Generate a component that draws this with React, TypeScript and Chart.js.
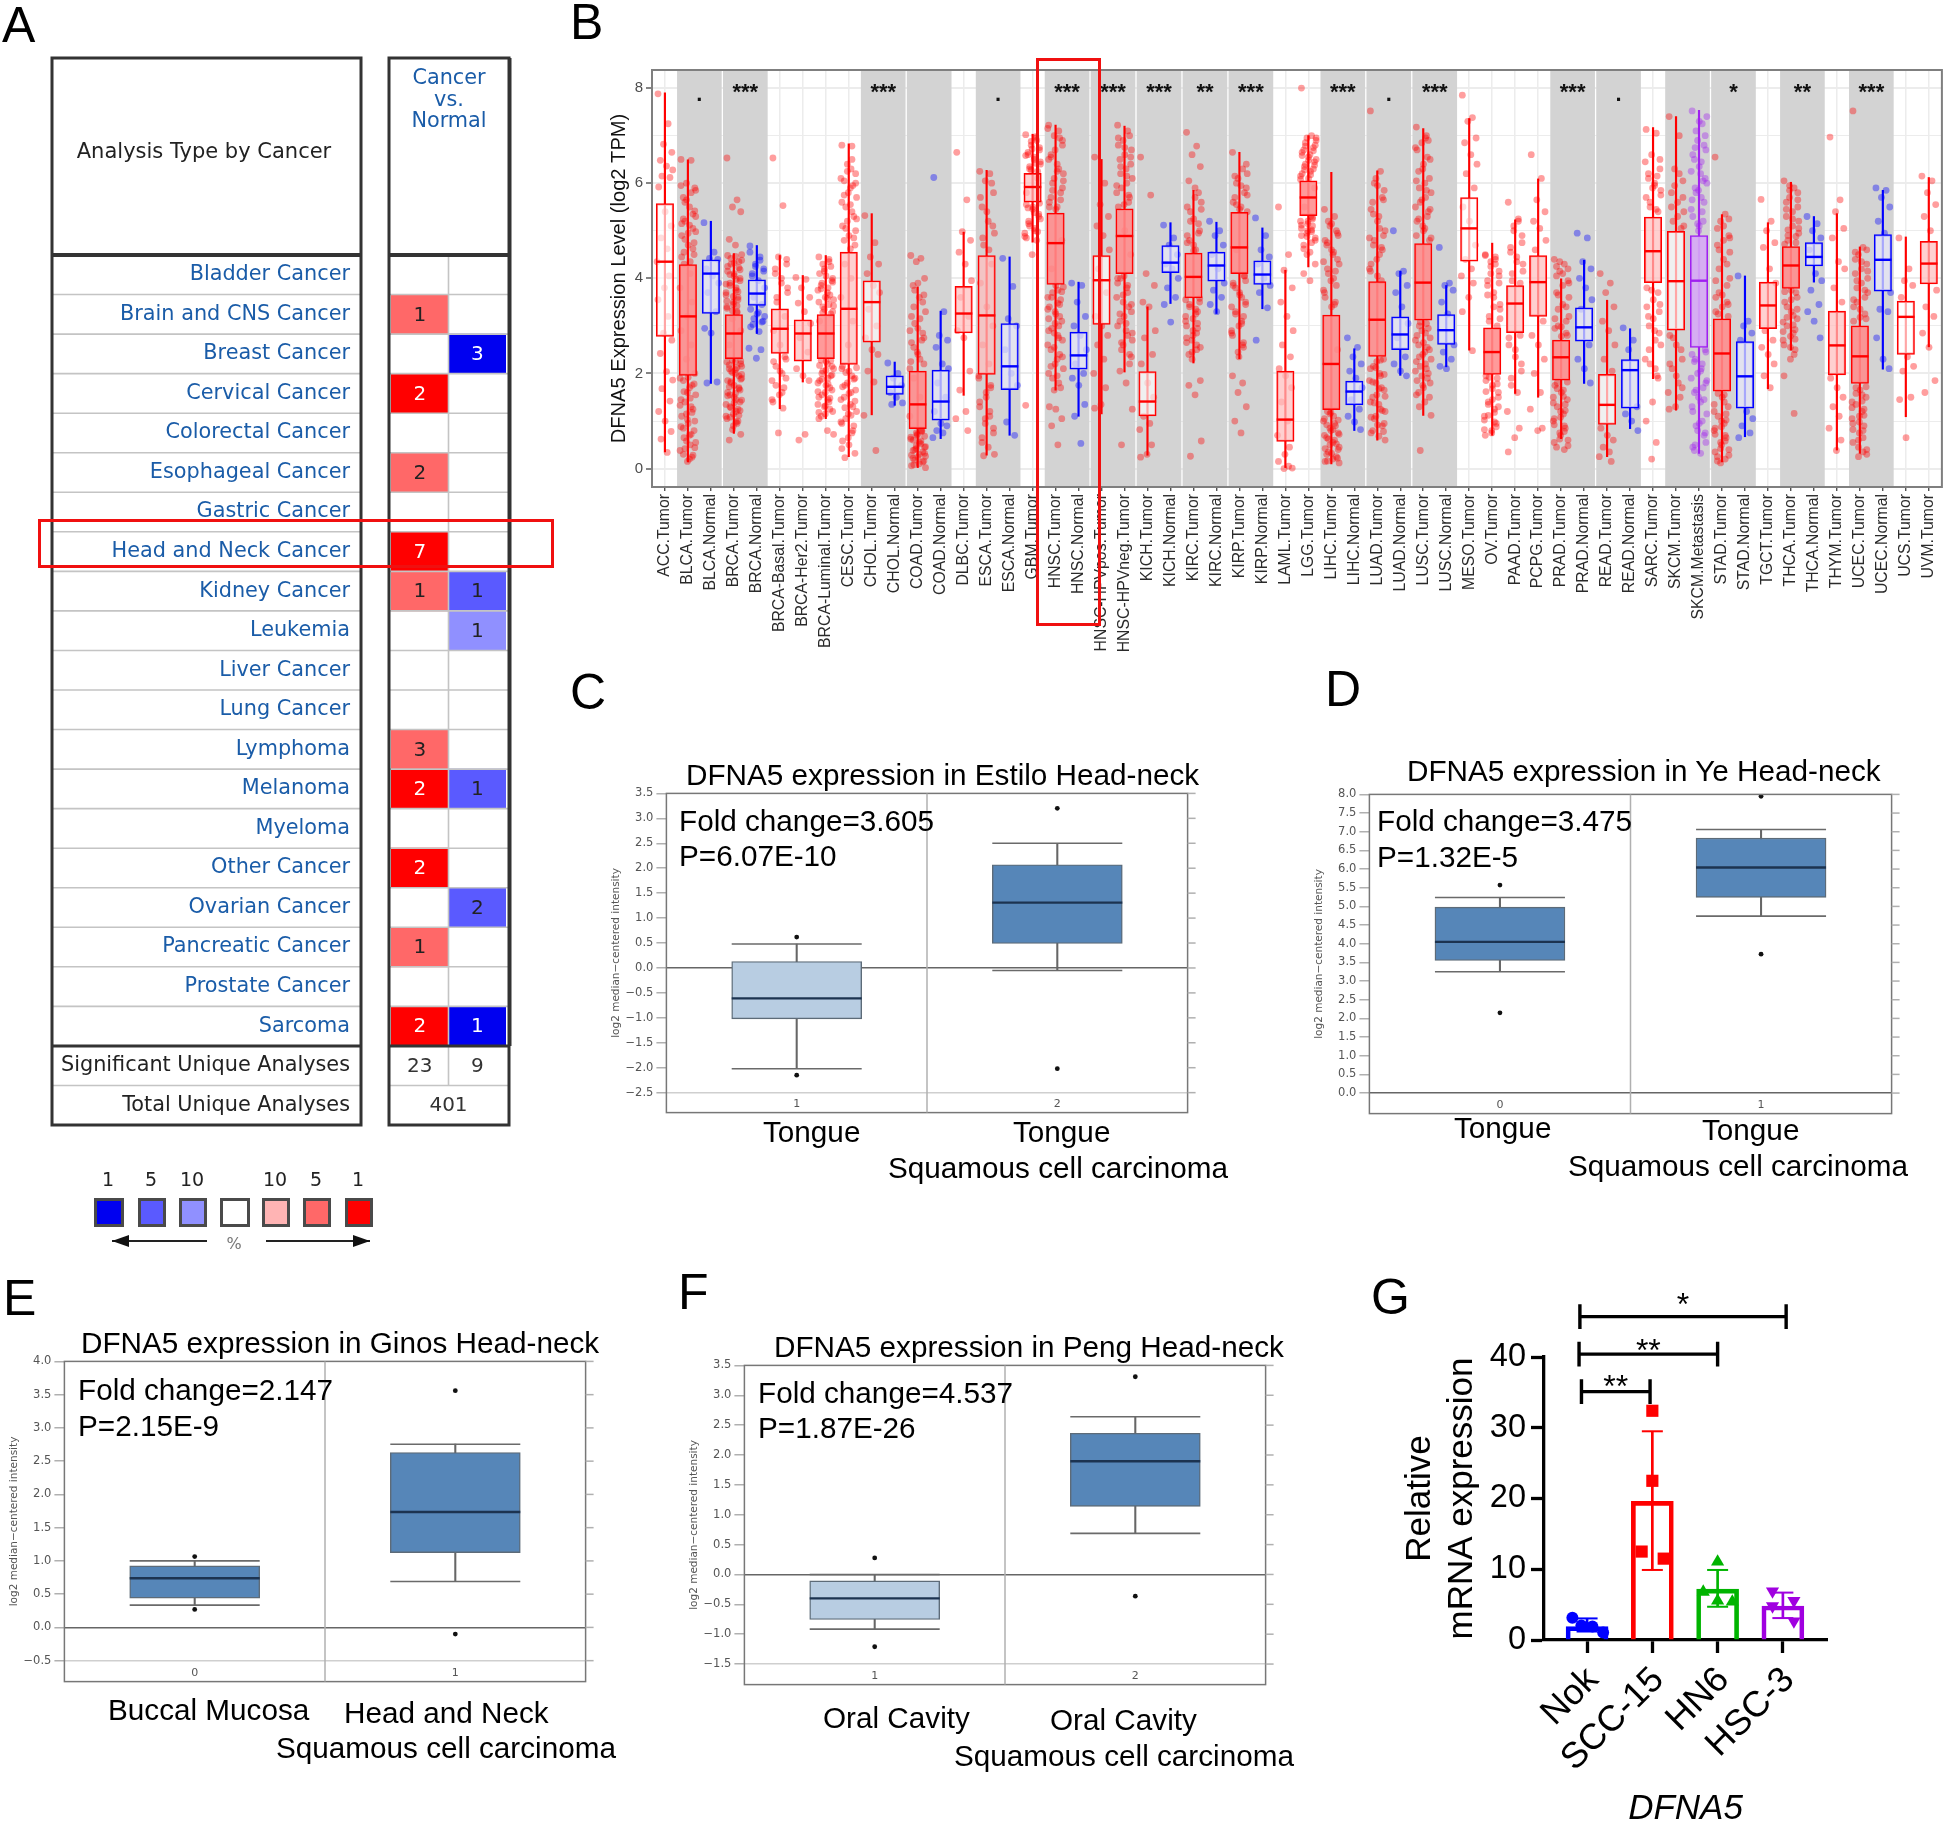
import React, { useEffect, useRef } from 'react';
import { Chart, registerables } from 'chart.js';
Chart.register(...registerables);

const SANS = '"Liberation Sans", Arial, sans-serif';
const DEJA = '"DejaVu Sans", sans-serif';

/* ---------- Panel A ---------- */
const cancerRows = ['Bladder Cancer','Brain and CNS Cancer','Breast Cancer','Cervical Cancer','Colorectal Cancer','Esophageal Cancer','Gastric Cancer','Head and Neck Cancer','Kidney Cancer','Leukemia','Liver Cancer','Lung Cancer','Lymphoma','Melanoma','Myeloma','Other Cancer','Ovarian Cancer','Pancreatic Cancer','Prostate Cancer','Sarcoma','Significant Unique Analyses','Total Unique Analyses'];
const upCounts = [0,1,0,2,0,2,0,7,1,0,0,0,3,2,0,2,0,1,0,2];
const upShade = [0,5,0,1,0,5,0,1,5,0,0,0,5,1,0,1,0,5,0,1];
const downCounts = [0,0,3,0,0,0,0,0,1,1,0,0,0,1,0,0,2,0,0,1];
const downShade = [0,0,1,0,0,0,0,0,5,10,0,0,0,5,0,0,5,0,0,1];
const significantCounts = [23, 9];
const totalAnalyses = 401;
const upColors: any = { 1: '#ff0000', 5: '#ff6868', 10: '#ffb4b4' };
const downColors: any = { 1: '#0000f0', 5: '#5a5aff', 10: '#9090ff' };
const legendNumbers = ['1','5','10','','10','5','1'];
const legendFills = ['#0000f0','#5a5aff','#9090ff','#ffffff','#ffb4b4','#ff6868','#ff0000'];
const legendLefts = [94,138,179,220,262,303,345];
const legendWidths = [30,28,28,30,28,28,28];

/* ---------- Panel B ---------- */
const tcgaLabels = ['ACC.Tumor','BLCA.Tumor','BLCA.Normal','BRCA.Tumor','BRCA.Normal','BRCA-Basal.Tumor','BRCA-Her2.Tumor','BRCA-Luminal.Tumor','CESC.Tumor','CHOL.Tumor','CHOL.Normal','COAD.Tumor','COAD.Normal','DLBC.Tumor','ESCA.Tumor','ESCA.Normal','GBM.Tumor','HNSC.Tumor','HNSC.Normal','HNSC-HPVpos.Tumor','HNSC-HPVneg.Tumor','KICH.Tumor','KICH.Normal','KIRC.Tumor','KIRC.Normal','KIRP.Tumor','KIRP.Normal','LAML.Tumor','LGG.Tumor','LIHC.Tumor','LIHC.Normal','LUAD.Tumor','LUAD.Normal','LUSC.Tumor','LUSC.Normal','MESO.Tumor','OV.Tumor','PAAD.Tumor','PCPG.Tumor','PRAD.Tumor','PRAD.Normal','READ.Tumor','READ.Normal','SARC.Tumor','SKCM.Tumor','SKCM.Metastasis','STAD.Tumor','STAD.Normal','TGCT.Tumor','THCA.Tumor','THCA.Normal','THYM.Tumor','UCEC.Tumor','UCEC.Normal','UCS.Tumor','UVM.Tumor'];
const tcgaQ3 = [5.57,4.29,4.39,3.24,3.97,3.36,3.13,3.24,4.55,3.95,1.95,2.05,2.07,3.83,4.48,3.05,6.21,5.37,2.87,4.48,5.46,2.04,4.69,4.53,4.55,5.39,4.37,2.05,6.05,3.23,1.84,3.93,3.19,4.73,3.24,5.7,2.96,3.85,4.48,2.7,3.38,1.98,2.29,5.29,4.99,4.9,3.15,2.67,3.92,4.67,4.75,3.31,3.0,4.92,3.52,4.78];
const tcgaMedian = [4.35,3.2,4.1,2.84,3.68,2.94,2.84,2.84,3.36,3.5,1.72,1.35,1.41,3.26,3.22,2.15,5.92,4.74,2.38,3.96,4.89,1.41,4.33,4.03,4.27,4.65,4.08,1.03,5.7,2.2,1.62,3.13,2.82,3.91,2.91,5.05,2.45,3.47,3.92,2.34,2.97,1.34,2.07,4.57,3.94,3.95,2.42,1.94,3.43,4.27,4.45,2.59,2.36,4.39,3.19,4.31];
const tcgaQ1 = [2.78,1.96,3.26,2.31,3.43,2.42,2.26,2.31,2.19,2.66,1.56,0.84,1.02,2.85,1.98,1.66,5.6,3.87,2.09,3.03,4.1,1.11,4.12,3.59,3.94,4.1,3.87,0.57,5.32,1.24,1.34,2.36,2.5,3.12,2.61,4.36,1.98,2.86,3.2,1.86,2.68,0.93,1.27,3.91,2.91,2.55,1.63,1.27,2.94,3.79,4.26,1.97,1.79,3.73,2.4,3.88];
const tcgaHigh = [7.9,6.49,5.2,4.52,4.69,4.48,4.06,4.48,6.83,5.36,2.24,3.82,3.31,4.97,6.27,4.45,7.03,7.22,3.92,6.5,7.2,3.4,5.17,5.85,5.18,6.65,5.06,4.17,7.0,6.23,2.52,6.26,4.15,7.15,3.85,7.36,4.74,5.23,6.09,3.99,4.38,3.54,2.94,7.17,7.4,7.53,5.34,4.05,5.17,6.02,5.3,5.36,4.66,5.85,4.87,6.12];
const tcgaLow = [0.35,0.14,1.79,0.74,2.84,1.26,1.82,1.05,0.25,1.13,1.33,0,0.63,1.54,0.28,0.7,4.76,1.65,1.1,1.15,2.03,0.28,3.47,2.22,3.26,2.31,3.36,0,4.24,0.1,0.8,0.6,1.96,1.12,2.14,2.49,0.7,1.58,1.5,0.63,1.79,0.25,0.84,1.89,1.23,0.32,0.14,0.67,1.68,2.49,3.92,0.39,0.32,2.09,1.09,2.56];
const tcgaSpread = [
[7.88,7.25,6.82,6.65,6.48,6.36,6.28,6.15,6.12,5.92,5.4,5.1,4.85,4.62,4.35,4.05,3.8,3.55,3.2,2.85,2.7,2.42,2.04,1.86,1.68,1.42,1.2,1.0,0.78,0.62,0.34],
[6.5,6.48,6.0,5.9,5.7,5.5,5.3,5.2,5.05,4.9,4.7,4.5,4.3,4.1,3.8,3.5,3.2,2.9,2.6,2.3,2.0,1.85,1.7,1.55,1.4,1.25,1.1,0.95,0.8,0.65,0.5,0.38,0.24,0.15,5.95,5.8,5.65,5.42,5.25,5.12,4.98,4.82,4.62,4.45,1.92,1.78,1.62,1.48,1.33,1.18,1.03,0.88,0.72,0.58,0.44,0.3,0.2,5.85,5.6,5.35,5.15,4.95,4.75,4.55,4.35,1.9,1.75,1.6,1.45,1.3,1.15,1.0,0.85,0.7,0.55,0.42,0.28],
[5.17,4.55,4.42,4.4,4.2,4.05,3.9,3.7,3.3,2.95,2.85,1.82,1.8],
[6.53,5.65,5.5,5.4,4.82,4.7,4.5,4.42,4.35,4.25,4.1,4.0,3.9,3.8,3.7,3.6,3.5,3.4,3.3,3.15,2.9,2.6,2.25,2.15,2.05,1.95,1.85,1.75,1.65,1.55,1.45,1.35,1.25,1.15,1.05,0.95,0.82,0.72,0.6,4.46,4.38,4.3,4.22,4.15,4.05,3.95,3.85,3.75,3.65,3.55,3.45,3.37,3.28,2.28,2.2,2.1,2.0,1.9,1.8,1.7,1.6,1.5,1.4,1.3,1.2,1.1,1.0,0.9,2.24,2.12,2.02,1.88,1.72,1.58,1.44,1.28,1.12,4.48,4.32,4.18,4.08,3.98,3.88,3.72,3.62,3.52,3.42,3.32,2.26,2.18,2.08,1.98,1.83,1.68,1.53,1.38,1.22,1.08,0.98],
[4.68,4.45,4.3,4.2,4.1,3.95,3.8,3.6,3.45,3.35,3.25,3.1,3.03,2.88,2.53,2.5,2.32,4.55,4.38,4.25,4.15,4.05,3.28,3.2,3.15,3.08,2.98],
[6.53,5.53,4.45,4.3,4.1,3.9,3.7,3.5,3.2,2.9,2.6,2.3,2.15,2.0,1.85,1.7,1.55,1.4,1.27,0.75,4.4,4.2,4.0,3.8,3.6,2.35,2.25,2.05,1.9,1.75,1.6,1.45],
[4.02,3.98,3.8,3.6,3.48,3.3,3.05,2.75,2.45,2.1,1.95,1.85,0.6,0.72],
[4.45,4.4,4.2,4.0,3.85,3.7,3.55,3.4,3.25,3.1,2.25,2.15,2.0,1.9,1.8,1.7,1.6,1.5,1.4,1.3,1.2,1.1,0.8,0.72,4.3,4.25,4.1,4.05,3.95,3.9,3.8,3.75,3.65,3.6,3.5,3.45,3.35,3.3,2.28,2.2,2.1,2.05,1.95,1.85,1.75,1.65,1.55,1.45,1.35,1.25,1.15,1.05,4.35,4.15,3.92,3.78,3.58,3.42,3.28,2.27,2.17,2.07,1.97,1.88,1.78,1.62,1.48,1.32,1.18],
[6.8,6.78,6.4,6.2,6.05,5.9,5.7,5.5,5.3,5.1,4.9,4.7,4.3,4.0,3.6,3.1,2.6,2.1,1.95,1.8,1.65,1.5,1.35,1.2,1.05,0.9,0.58,0.5,0.32,0.23,6.3,6.1,5.95,5.8,5.6,5.4,5.2,5.0,4.8,4.62,2.12,2.02,1.88,1.72,1.58,1.42,1.28,1.12,0.98,0.8,0.65,0.42,6.5,6.25,6.0,5.75,5.55,5.25,5.05,4.85,2.15,2.05,1.9,1.75,1.6,1.45,1.3,1.15,0.95,0.75],
[5.32,4.75,4.45,4.3,4.1,3.85,3.7,3.35,3.0,2.75,2.5,2.4,2.05,1.82,1.12,0.38],
[2.22,2.0,1.9,1.75,1.6,1.5,1.38,1.35],
[4.48,4.42,4.35,4.0,3.85,3.6,3.3,3.05,2.85,2.65,2.4,2.2,1.9,1.5,1.1,0.8,0.72,0.62,0.52,0.42,0.32,0.22,0.1,0.02,3.75,3.5,3.2,2.95,2.75,2.55,2.3,2.1,0.78,0.7,0.66,0.58,0.48,0.45,0.38,0.3,0.26,0.18,0.14,0.06,3.9,3.65,3.4,3.15,2.9,2.7,2.45,2.25,0.8,0.75,0.68,0.6,0.55,0.46,0.4,0.35,0.28,0.24,0.16,0.08],
[6.12,3.3,2.8,2.7,2.55,2.2,2.1,1.8,1.5,1.2,0.95,0.9,0.8,0.75,0.65],
[6.65,5.65,4.98,4.8,4.55,4.3,3.95,3.6,3.2,2.9,2.75,2.05,1.65,1.2,1.05,0.8],
[6.25,6.2,6.05,5.8,5.5,5.2,4.95,4.7,4.3,3.9,3.4,3.0,2.6,2.2,1.9,1.75,1.6,1.4,1.2,1.05,0.85,0.65,0.45,0.3,0.27,6.0,5.7,5.4,5.1,4.85,4.6,1.95,1.7,1.5,1.3,1.1,0.95,0.75,0.55],
[4.42,3.83,3.15,3.0,2.5,2.0,1.75,0.98,0.7],
[7.02,6.95,6.8,6.7,6.6,6.5,6.4,6.3,6.1,5.8,5.5,5.35,5.2,5.05,4.95,4.8,4.5,1.33,6.98,6.88,6.75,6.65,6.55,6.45,6.35,6.25,5.55,5.45,5.3,5.15,5.0,4.88,6.9,6.72,6.58,6.42,6.28,5.58,5.48,5.38,5.25,5.1,4.98,4.85],
[7.22,7.1,7.0,6.8,6.6,6.4,6.2,6.0,5.8,5.6,5.45,4.8,4.2,3.75,3.6,3.45,3.3,3.15,3.0,2.85,2.7,2.5,2.3,2.1,1.9,1.7,1.3,1.25,1.05,0.9,0.5,7.15,6.95,6.7,6.5,6.3,6.1,5.9,5.7,5.5,3.82,3.7,3.55,3.4,3.25,3.1,2.95,2.8,2.6,2.4,2.2,2.0,1.8,1.65,6.9,6.55,6.25,6.05,5.85,5.65,5.5,3.85,3.72,3.6,3.48,3.35,3.2,3.05,2.9,2.75,2.55,2.35,2.15,1.95],
[3.9,3.85,3.5,3.2,3.0,2.8,2.5,2.2,2.0,1.9,1.75,1.35,1.1,0.53],
[6.55,6.0,5.55,5.3,5.1,4.9,4.6,4.2,3.7,3.2,3.0,2.8,2.6,2.3,2.0,1.7,1.35,1.27],
[7.22,7.1,6.9,6.7,6.5,6.3,6.1,5.9,5.7,5.5,5.0,4.5,4.0,3.8,3.6,3.4,3.2,3.0,2.8,2.6,2.35,2.05,1.8,1.25,0.5,7.0,6.8,6.6,6.4,6.2,6.0,5.8,5.6,4.05,3.9,3.7,3.5,3.3,3.1,2.9,2.7,2.5,2.2,6.95,6.75,6.55,6.35,6.15,5.95,5.75,5.55,4.0,3.85,3.65,3.45,3.25,3.05,2.85,2.65,2.4],
[6.55,5.75,4.1,3.85,3.5,3.4,2.9,2.75,2.4,2.2,1.8,1.5,1.1,0.95,0.82,0.5,0.3,0.24],
[5.12,4.85,4.7,4.5,4.3,4.2,4.0,3.8,3.6,3.45,3.08],
[7.07,6.78,6.6,6.35,6.05,5.9,5.6,5.4,5.15,4.9,4.7,3.5,3.4,3.25,3.1,2.95,2.8,2.65,2.5,2.3,1.85,1.75,1.55,0.58,0.26,5.8,5.5,5.25,5.0,4.8,4.6,3.55,3.3,3.15,3.0,2.85,2.7,2.55,2.4,5.7,5.45,5.2,4.95,4.75,4.58,3.58,3.45,3.35,3.2,3.05,2.9,2.75,2.6,2.45],
[5.2,5.0,4.9,4.7,4.5,4.2,3.9,3.75,3.6,3.45,3.3],
[6.65,6.3,6.1,5.9,5.7,5.5,5.4,4.6,4.05,3.9,3.7,3.5,3.3,3.1,2.9,2.55,2.35,1.95,1.8,1.6,1.3,1.0,0.75,6.2,6.0,5.8,5.6,5.45,3.95,3.8,3.6,3.4,3.2,3.0,2.8,2.6,2.45,6.4,6.15,5.95,5.75,5.55,4.05,3.85,3.65,3.45,3.25,3.05,2.85,2.65],
[5.27,4.9,4.6,4.45,4.3,4.0,3.85,3.7,3.38,2.7],
[5.5,4.5,4.17,3.8,3.5,3.2,2.9,2.6,2.35,2.1,1.95,1.7,1.4,1.0,0.7,0.45,0.3,0.15,0.05,0,0.01],
[8.0,7.0,6.95,6.8,6.7,6.6,6.5,6.4,6.3,6.2,6.1,5.9,5.5,5.3,5.2,5.1,5.0,4.9,4.75,4.5,4.3,4.1,3.95,6.95,6.85,6.75,6.65,6.55,6.45,6.35,6.25,6.15,5.28,5.2,5.12,5.02,4.95,4.85,4.7,4.55,6.9,6.78,6.68,6.58,6.48,6.38,6.28,6.18,6.08,5.25,5.15,5.05,4.98,4.88,4.8,4.62],
[5.45,5.3,5.1,4.9,4.7,4.5,4.3,4.1,3.85,3.6,3.4,2.5,1.2,1.1,1.0,0.9,0.8,0.7,0.6,0.5,0.4,0.3,0.2,0.12,5.2,5.0,4.8,4.6,4.4,4.2,4.0,3.75,3.5,1.18,1.05,0.95,0.85,0.75,0.65,0.55,0.45,0.35,0.25,0.15,5.15,4.95,4.75,4.55,4.35,4.15,3.95,3.7,3.45,1.15,1.02,0.92,0.82,0.72,0.62,0.52,0.42,0.32,0.22,0.16],
[2.75,2.55,2.35,2.2,2.05,1.9,1.7,1.45,1.25,1.1,0.98,0.82],
[7.52,6.25,6.1,5.85,5.6,5.3,5.0,4.8,4.6,4.3,4.05,2.3,2.15,2.0,1.85,1.7,1.55,1.4,1.25,1.1,0.95,0.8,0.68,0.6,6.0,5.7,5.45,5.2,4.9,4.7,4.5,4.2,3.95,2.25,2.1,1.95,1.8,1.65,1.5,1.35,1.2,1.05,0.9,0.75,5.95,5.65,5.35,5.05,4.85,4.65,4.4,4.15,2.28,2.12,1.98,1.82,1.68,1.52,1.38,1.22,1.08,0.92,0.78],
[5.0,4.15,4.1,3.85,3.7,3.4,3.05,2.75,2.35,2.2,2.05,1.95],
[7.18,7.0,6.85,6.5,6.25,6.0,5.8,5.6,5.4,5.2,5.0,4.8,3.0,2.85,2.7,2.55,2.4,2.25,2.1,1.95,1.8,1.6,1.4,1.12,0.38,6.9,6.7,6.4,6.1,5.9,5.7,5.5,5.3,5.1,4.9,3.05,2.9,2.75,2.6,2.45,2.3,2.15,2.0,1.85,1.7,1.5,1.3,6.95,6.75,6.55,6.3,6.05,5.85,5.65,5.45,5.25,5.05,4.85,3.08,2.95,2.8,2.65,2.5,2.35,2.2,2.05,1.9,1.75,1.55],
[4.65,3.9,3.85,3.75,3.5,3.25,2.6,2.45,2.3,2.15,2.1],
[7.85,7.38,7.3,6.95,6.85,6.6,6.4,6.2,5.9,5.5,5.2,4.7,4.4,4.2,4.05,3.9,3.6,3.3,2.48],
[4.5,4.4,4.35,4.15,3.95,3.7,3.45,3.2,3.0,1.95,1.75,1.6,1.4,1.25,1.1,0.95,0.8,0.7,4.45,4.25,4.05,3.85,3.6,3.35,3.1,1.9,1.85,1.68,1.5,1.35,1.18,1.02,0.88,0.75,4.48,4.3,4.1,3.9,3.65,3.4,3.15,1.92,1.78,1.62,1.45,1.3,1.12,0.98,0.82],
[5.6,5.25,5.1,4.9,4.65,4.45,4.3,4.1,3.9,2.75,2.5,2.2,1.9,1.6,1.2,0.85,0.65,0.35,5.2,5.0,4.75,4.55,4.35,4.15,3.95,2.8,2.6,2.35,2.05,1.75],
[6.6,6.1,5.65,5.4,5.2,5.05,4.8,4.6,3.1,2.8,2.6,2.3,2.0,1.6,1.25,0.85,0.8],
[4.4,4.3,4.15,3.95,3.7,3.45,3.2,3.0,2.85,1.75,1.6,1.45,1.3,1.15,1.0,0.85,0.7,0.55,0.4,4.35,4.2,4.05,3.85,3.6,3.35,3.1,2.95,2.78,1.82,1.68,1.52,1.38,1.22,1.08,0.92,0.78,0.62,0.48,4.25,4.1,3.9,3.65,3.4,3.15,2.98,2.8,1.8,1.65,1.5,1.35,1.2,1.05,0.9,0.75,0.6,0.45],
[4.95,4.85,4.35,4.2,4.0,3.8,3.55,3.35,2.6,2.3,2.1,1.8],
[4.1,3.9,3.7,3.4,3.1,2.9,2.6,2.3,2.05,0.85,0.7,0.6,0.45,0.35,0.25,0.15],
[2.96,2.7,2.5,1.3,1.15,1.0,0.8],
[7.13,7.05,6.6,6.3,6.1,6.0,5.85,5.6,5.4,3.8,3.55,3.3,3.0,2.7,2.3,1.95,1.4,1.0,0.55,0.2,6.5,6.2,5.95,5.75,5.5,3.7,3.4,3.15,2.85,2.5,2.1,6.45,6.15,5.9,5.7,5.45,3.75,3.45,3.2,2.9,2.6,2.2,1.9],
[7.4,7.0,6.3,6.05,5.8,5.6,5.4,5.2,5.05,2.8,2.6,2.3,2.1,1.8,1.6,1.5,1.3,1.25,6.2,5.95,5.7,5.5,5.3,5.1,2.75,2.5,2.2,1.95,1.7],
[7.52,7.25,6.9,6.7,6.5,6.2,6.0,5.8,5.6,5.3,5.1,2.5,2.3,2.1,1.9,1.7,1.5,1.3,1.0,0.8,0.55,0.38,0.32,7.4,7.1,6.8,6.6,6.35,6.1,5.9,5.7,5.45,5.2,5.0,2.4,2.2,2.0,1.8,1.6,1.4,1.15,0.9,0.7,0.45,7.3,7.0,6.75,6.45,6.25,6.05,5.85,5.65,5.4,5.15,2.45,2.25,2.05,1.85,1.65,1.45,1.2,0.95,0.75,0.5],
[6.55,5.35,5.2,4.9,4.7,4.4,4.0,3.7,3.5,3.3,1.5,1.3,1.1,0.95,0.8,0.65,0.5,0.35,0.2,0.12,5.25,5.05,4.8,4.55,4.2,3.85,3.6,3.4,3.2,1.58,1.4,1.2,1.02,0.88,0.72,0.58,0.42,0.28,0.16,5.1,4.85,4.6,4.3,3.95,3.65,3.45,3.25,1.55,1.35,1.15,1.0,0.85,0.7,0.55,0.4,0.25],
[4.05,3.1,3.0,2.85,2.7,1.2,1.05,0.9,0.75,0.65],
[5.66,5.2,5.0,4.75,4.65,4.2,3.9,2.9,2.7,2.55,2.4,2.2,1.95,1.7],
[6.05,5.9,5.7,5.5,5.3,5.1,4.95,4.8,3.7,3.5,3.3,3.15,3.0,2.85,2.7,2.5,2.3,1.95,1.16,5.95,5.8,5.6,5.4,5.2,5.02,4.88,4.72,3.75,3.6,3.4,3.22,3.08,2.92,2.78,2.6,2.4,5.85,5.65,5.45,5.25,5.05,4.9,4.75,3.72,3.55,3.35,3.18,3.02,2.88,2.72,2.55],
[5.3,5.15,5.0,4.85,4.6,4.1,3.95,3.75,3.45,3.3,3.1,2.75],
[6.97,5.65,5.4,5.05,4.85,4.35,4.2,3.8,3.5,1.9,1.7,1.5,1.3,1.1,0.85,0.6,0.38],
[7.52,4.65,4.5,4.3,4.1,3.9,3.7,3.5,3.25,3.1,1.65,1.5,1.35,1.2,1.05,0.9,0.75,0.55,0.35,0.25,4.6,4.4,4.2,4.0,3.8,3.6,3.4,3.18,1.72,1.58,1.42,1.28,1.12,0.98,0.82,0.65,0.45,0.3,4.55,4.35,4.15,3.95,3.75,3.55,3.35,3.15,1.7,1.55,1.4,1.25,1.1,0.95,0.8,0.6,0.4],
[5.9,5.85,5.7,5.5,5.2,4.95,3.7,3.35,3.3,2.75,2.3,2.1],
[4.85,4.2,3.95,3.85,3.6,2.35,2.15,2.05,1.5,1.45,0.65],
[6.15,6.05,5.8,5.55,5.3,5.0,3.75,3.4,3.2,2.85,2.55,1.85,1.6],
];
const jitterPattern = [-0.3,0.14,-0.06,0.3,-0.2,0.07,0.34,-0.13,0.22,-0.27,0.01,0.27,-0.17,0.1,-0.34,0.18,-0.02];
const bandStarts = [2,4,10,12,15,18,20,22,24,26,30,32,34,40,42,45,47,50,53];
const bandMarks = ['.','***','***','','.','***','***','***','**','***','***','.','***','***','.','','*','**','***'];
const denseBoxes = ['BRCA.Tumor','BRCA-Luminal.Tumor','COAD.Tumor','HNSC.Tumor','KIRC.Tumor','LIHC.Tumor','LUAD.Tumor','LUSC.Tumor','OV.Tumor','PRAD.Tumor','STAD.Tumor','THCA.Tumor','UCEC.Tumor','BLCA.Tumor','KIRP.Tumor','LGG.Tumor','HNSC-HPVneg.Tumor'];
const mediumBoxes = ['CESC.Tumor','ESCA.Tumor','GBM.Tumor','SARC.Tumor','PAAD.Tumor','PCPG.Tumor','BRCA-Basal.Tumor','BRCA-Her2.Tumor','DLBC.Tumor','TGCT.Tumor','THYM.Tumor','LAML.Tumor','UVM.Tumor'];
const tcgaTicks = [0,1,2,3,4,5,6,7,8];

/* ---------- Panels C-F ---------- */
const estiloQ3 = [0.13,2.07]; const estiloMedian = [-0.61,1.31]; const estiloQ1 = [-1.02,0.49]; const estiloHigh = [0.48,2.5]; const estiloLow = [-2.02,-0.05];
const estiloOutliers = [[0.62,-2.15],[3.2,-2.02]];
const estiloTicks = [3.5,3,2.5,2,1.5,1,0.5,0,-0.5,-1,-1.5,-2,-2.5];
const yeQ3 = [4.98,6.83]; const yeMedian = [4.05,6.04]; const yeQ1 = [3.55,5.24]; const yeHigh = [5.24,7.06]; const yeLow = [3.25,4.74];
const yeOutliers = [[5.57,2.15],[7.95,3.72]];
const yeTicks = [8,7.5,7,6.5,6,5.5,5,4.5,4,3.5,3,2.5,2,1.5,1,0.5,0];
const ginosQ3 = [0.925,2.63]; const ginosMedian = [0.74,1.735]; const ginosQ1 = [0.44,1.125]; const ginosHigh = [1.0,2.755]; const ginosLow = [0.335,0.69];
const ginosOutliers = [[1.065,0.27],[3.56,-0.1]];
const ginosTicks = [4,3.5,3,2.5,2,1.5,1,0.5,0,-0.5];
const pengQ3 = [-0.108,2.364]; const pengMedian = [-0.4,1.896]; const pengQ1 = [-0.754,1.14]; const pengHigh = [0,2.64]; const pengLow = [-0.915,0.688];
const pengOutliers = [[0.276,-1.21],[3.31,-0.364]];
const pengTicks = [3.5,3,2.5,2,1.5,1,0.5,0,-0.5,-1,-1.5];
const LIGHT = '#b8cde2'; const DARK = '#5686b8';

/* ---------- Panel G ---------- */
const cellLines = ['Nok','SCC-15','HN6','HSC-3'];
const cellMeans = [1.9,19.6,7.2,4.8];
const cellErrHigh = [3.05,29.5,9.9,6.7];
const cellErrLow = [1.2,9.9,4.7,3.1];
const cellColors = ['#0000ff','#ff0000','#00b400','#a000e0'];
const cellReplicates = [[3.15,2.05,1.9,1.05],[32.4,22.5,12.5,11.5],[11.05,6.8,5.55,5.4],[6.9,4.8,5.55,2.65]];
const cellOffsets = [[-0.225,-0.087,0.082,0.246],[0,0,-0.164,0.174],[0,-0.22,0,0.225],[-0.159,-0.159,0.169,0.169]];
const cellTicks = [0,10,20,30,40];
const bracketFrom = [-0.11,-0.123,-0.086];
const bracketTo = [3.05,2.0,0.965];
const bracketLevel = [45.7,40.4,35.1];
const bracketStars = ['*','**','**'];
const bracketStarBase = [46,39.5,34.4];

/* ---------- helpers ---------- */
function stack(list: any[]) { return list.map((d, i) => ({ ...d, order: list.length - i })); }

function ChartBox({ plot, m, make }: any) {
  const ref = useRef<HTMLCanvasElement>(null);
  const W = plot.r - plot.l + m.l + m.r;
  const H = plot.b - plot.t + m.t + m.b;
  useEffect(() => {
    const cfg = make();
    const xScale = cfg.options.scales.x;
    const hiddenX = xScale.display === false;
    cfg.options.responsive = false;
    cfg.options.animation = false;
    cfg.options.events = [];
    cfg.options.layout = { padding: { top: m.t, right: m.r, left: 0, bottom: hiddenX ? m.b : 0 } };
    cfg.options.plugins = { legend: { display: false }, tooltip: { enabled: false }, ...(cfg.options.plugins || {}) };
    cfg.options.scales.y.afterFit = (s: any) => { s.width = m.l; };
    if (!hiddenX) xScale.afterFit = (s: any) => { s.height = m.b; };
    const c = new Chart(ref.current as any, cfg);
    return () => c.destroy();
  }, []);
  return <canvas ref={ref} width={W} height={H} style={{ position: 'absolute', left: plot.l - m.l, top: plot.t - m.t, display: 'block' }} />;
}

function T({ x, y, size = 29.7, font = SANS, color = '#000', center = false, children, style }: any) {
  return <div style={{ position: 'absolute', left: x, top: y, transform: `translate(${center ? '-50%' : '0'},-50%)`, font: `${size}px ${font}`, color, whiteSpace: 'nowrap', lineHeight: 1.1, ...style }}>{children}</div>;
}

const framePlugin = (color: string, width: number) => ({
  id: 'frame',
  afterDatasetsDraw(c: any) {
    const a = c.chartArea; const g = c.ctx;
    g.save(); g.strokeStyle = color; g.lineWidth = width;
    g.strokeRect(a.left, a.top, a.right - a.left, a.bottom - a.top);
    g.restore();
  },
});

/* ---------- Panel A chart ---------- */
function tableConfig() {
  const cols = (counts: number[], shades: number[], map: any, a: number, b: number) => ({
    type: 'bar', grouped: false, barPercentage: 1, categoryPercentage: 1, borderWidth: 0,
    data: cancerRows.map((_, i) => (counts[i] ? [a, b] : null)),
    backgroundColor: cancerRows.map((_, i) => map[shades[i]] || 'rgba(0,0,0,0)'),
  });
  const tablePlugin = {
    id: 'table',
    afterDatasetsDraw(c: any) {
      const g = c.ctx; const y = c.scales.y; const x = c.scales.x;
      const step = y.getPixelForValue(1) - y.getPixelForValue(0);
      const at = (i: number) => y.getPixelForValue(i) - step / 2;
      const Lx0 = 52, Lx1 = 361, Rx0 = 389, Rx1 = 509;
      const top = 8, head = y.top, bottom = y.bottom;
      g.save();
      // white band that hides the lower part of the gastric row label
      g.fillStyle = '#fff';
      g.fillRect(Lx0 + 3, 469, Lx1 - Lx0 - 6, at(7) - 469);
      g.strokeStyle = '#c4c4c4'; g.lineWidth = 1.6;
      for (let i = 1; i < 22; i++) {
        const py = at(i);
        g.beginPath(); g.moveTo(Lx0, py); g.lineTo(Lx1, py); g.moveTo(Rx0, py); g.lineTo(Rx1, py); g.stroke();
      }
      const mid = x.getPixelForValue(1);
      g.beginPath(); g.moveTo(mid, head); g.lineTo(mid, at(21)); g.stroke();
      g.strokeStyle = '#333'; g.lineWidth = 3;
      g.strokeRect(Lx0, top, Lx1 - Lx0, bottom - top);
      g.strokeRect(Rx0, top, Rx1 - Rx0, bottom - top);
      g.beginPath(); g.moveTo(Rx1 + 1, top); g.lineTo(Rx1 + 1, at(20)); g.stroke();
      g.lineWidth = 4;
      g.beginPath(); g.moveTo(Lx0, head); g.lineTo(Lx1, head); g.moveTo(Rx0, head); g.lineTo(Rx1, head); g.stroke();
      g.lineWidth = 3;
      g.beginPath(); g.moveTo(Lx0, at(20)); g.lineTo(Lx1, at(20)); g.moveTo(Rx0, at(20)); g.lineTo(Rx1, at(20)); g.stroke();
      // cell counts
      g.font = `20px ${DEJA}`; g.textAlign = 'center'; g.textBaseline = 'middle';
      const put = (txt: any, col: number, row: number, color: string) => {
        g.fillStyle = color; g.fillText(String(txt), x.getPixelForValue(col), y.getPixelForValue(row) + 1);
      };
      upCounts.forEach((n, i) => { if (n) put(n, 0.5, i, upShade[i] === 1 ? '#fff' : '#222'); });
      downCounts.forEach((n, i) => { if (n) put(n, 1.5, i, downShade[i] === 1 ? '#fff' : '#222'); });
      put(significantCounts[0], 0.5, 20, '#333'); put(significantCounts[1], 1.5, 20, '#333');
      put(totalAnalyses, 1, 21, '#333');
      g.restore();
    },
  };
  return {
    type: 'bar',
    data: { labels: cancerRows, datasets: stack([cols(upCounts, upShade, upColors, 0, 1), cols(downCounts, downShade, downColors, 1, 2)]) },
    plugins: [tablePlugin],
    options: {
      indexAxis: 'y',
      scales: {
        x: { display: false, type: 'linear', min: 0, max: 2, offset: false, grid: { display: false } },
        y: {
          type: 'category', offset: true, grid: { display: false, drawTicks: false }, border: { display: false },
          ticks: { autoSkip: false, padding: 41, font: { family: 'DejaVu Sans', size: 20.8 }, color: (ctx: any) => (ctx.index >= 20 ? '#222' : '#1a5ca8') },
        },
      },
    },
  };
}

/* ---------- Panel B chart ---------- */
function tcgaConfig() {
  const YMIN = -0.387, YMAX = 8.38;
  const tone = (name: string, a: number) => {
    const rgb = name.endsWith('Normal') ? '0,0,255' : name.endsWith('Metastasis') ? '160,32,240' : '255,0,0';
    return `rgba(${rgb},${a})`;
  };
  const boxFill = (name: string) => {
    if (name.endsWith('Metastasis')) return 'rgba(214,170,245,0.9)';
    if (denseBoxes.includes(name)) return 'rgba(255,140,140,0.88)';
    if (mediumBoxes.includes(name)) return 'rgba(255,190,190,0.72)';
    if (name.endsWith('Normal')) return 'rgba(232,232,250,0.72)';
    return 'rgba(255,255,255,0.65)';
  };
  const idx = tcgaLabels.map((_, i) => i + 1);
  const points: any[] = [];
  tcgaSpread.forEach((ys, i) => ys.forEach((y, k) => points.push({ x: i + 1 + jitterPattern[k % jitterPattern.length], y, c: tcgaLabels[i] })));
  const marksPlugin = {
    id: 'marks',
    afterDatasetsDraw(c: any) {
      const g = c.ctx; const x = c.scales.x; const y = c.scales.y;
      g.save(); g.fillStyle = '#111'; g.font = `bold 22px ${SANS}`; g.textAlign = 'center'; g.textBaseline = 'alphabetic';
      bandStarts.forEach((s, i) => {
        const m = bandMarks[i]; if (!m) return;
        g.fillText(m, x.getPixelForValue(s + 0.5), y.getPixelForValue(m === '.' ? 7.72 : 7.77));
      });
      g.restore();
    },
  };
  const datasets = stack([
    { type: 'bar', grouped: false, barThickness: 44, backgroundColor: '#d3d3d3', borderWidth: 0, data: bandStarts.map((s) => ({ x: s + 0.5, y: [YMIN, YMAX] })) },
    { type: 'scatter', pointStyle: 'circle', pointRadius: 3.4, borderWidth: 0, pointBorderWidth: 0, pointBackgroundColor: points.map((p) => tone(p.c, 0.38)), data: points.map((p) => ({ x: p.x, y: p.y })) },
    { type: 'bar', grouped: false, barThickness: 1.5, borderWidth: 0, backgroundColor: tcgaLabels.map((n) => tone(n, 1)), data: idx.map((x, i) => ({ x, y: [tcgaLow[i], tcgaHigh[i]] })) },
    { type: 'bar', grouped: false, barThickness: 17.4, borderWidth: 1.5, borderSkipped: false, borderColor: tcgaLabels.map((n) => tone(n, 1)), backgroundColor: tcgaLabels.map(boxFill), data: idx.map((x, i) => ({ x, y: [tcgaQ1[i], tcgaQ3[i]] })) },
    { type: 'scatter', pointStyle: 'line', pointRadius: 8.7, pointBorderWidth: 2.4, pointBorderColor: tcgaLabels.map((n) => tone(n, 1)), data: idx.map((x, i) => ({ x, y: tcgaMedian[i] })) },
  ]);
  return {
    type: 'scatter',
    data: { datasets },
    plugins: [framePlugin('#7f7f7f', 2), marksPlugin],
    options: {
      scales: {
        x: {
          type: 'linear', min: 0.438, max: 56.57, offset: false,
          afterBuildTicks: (s: any) => { s.ticks = idx.map((value) => ({ value })); },
          grid: { offset: false, color: '#ececec', lineWidth: 1.5, tickColor: '#333', tickLength: 4, tickWidth: 1.2 },
          border: { display: false },
          ticks: { autoSkip: false, minRotation: 90, maxRotation: 90, padding: 3, color: '#2a2a2a', font: { family: 'Liberation Sans', size: 15.8 }, callback: (v: number) => tcgaLabels[v - 1] },
        },
        y: {
          type: 'linear', min: YMIN, max: YMAX,
          afterBuildTicks: (s: any) => { s.ticks = tcgaTicks.map((value) => ({ value })); },
          grid: { color: '#ececec', lineWidth: (c: any) => (c.tick.value % 2 ? 1 : 2), tickColor: (c: any) => (c.tick.value % 2 ? 'rgba(0,0,0,0)' : '#333'), tickLength: 6, tickWidth: 1.2 },
          border: { display: false },
          title: { display: true, text: 'DFNA5 Expression Level (log2 TPM)', color: '#111', font: { family: 'Liberation Sans', size: 20.1 } },
          ticks: { padding: 3, color: '#4d4d4d', font: { family: 'Liberation Sans', size: 15 }, callback: (v: number) => (v % 2 ? '' : String(v)) },
        },
      },
    },
  };
}

/* ---------- Panels C-F chart ---------- */
function boxConfig(q3: number[], med: number[], q1: number[], hi: number[], lo: number[], outliers: number[][], fills: string[], ticks: number[], yMin: number, yMax: number, xLabels: string[]) {
  const pos = [1, 2];
  const low = ticks[ticks.length - 1];
  const sidePlugin = {
    id: 'side',
    afterDatasetsDraw(c: any) {
      const g = c.ctx; const y = c.scales.y; const x = c.scales.x; const a = c.chartArea;
      g.save(); g.strokeStyle = '#b0b0b0'; g.lineWidth = 1.5;
      ticks.forEach((t) => { const p = y.getPixelForValue(t); g.beginPath(); g.moveTo(a.right, p); g.lineTo(a.right + 8, p); g.stroke(); });
      const mid = x.getPixelForValue(1.5);
      g.beginPath(); g.moveTo(mid, a.top); g.lineTo(mid, a.bottom); g.stroke();
      g.fillStyle = '#555'; g.font = `11px ${DEJA}`; g.textAlign = 'center'; g.textBaseline = 'middle';
      pos.forEach((p, i) => g.fillText(xLabels[i], x.getPixelForValue(p), a.bottom - 8));
      g.restore();
    },
  };
  const datasets = stack([
    { type: 'bar', grouped: false, barThickness: 1.4, borderWidth: 0, backgroundColor: '#666', data: pos.map((x, i) => ({ x, y: [lo[i], hi[i]] })) },
    { type: 'scatter', pointStyle: 'line', pointRadius: 65, pointBorderWidth: 1.6, pointBorderColor: '#6a6a6a', data: pos.flatMap((x, i) => [{ x, y: hi[i] }, { x, y: lo[i] }]) },
    { type: 'bar', grouped: false, barThickness: 130, borderWidth: 1.4, borderSkipped: false, borderColor: '#5d6b78', backgroundColor: fills, data: pos.map((x, i) => ({ x, y: [q1[i], q3[i]] })) },
    { type: 'scatter', pointStyle: 'line', pointRadius: 65, pointBorderWidth: 2.4, pointBorderColor: '#1c3350', data: pos.map((x, i) => ({ x, y: med[i] })) },
    { type: 'scatter', pointStyle: 'circle', pointRadius: 2.4, pointBorderWidth: 0, pointBackgroundColor: '#111', data: pos.flatMap((x, i) => outliers[i].map((y) => ({ x, y }))) },
  ]);
  return {
    type: 'scatter',
    data: { datasets },
    plugins: [framePlugin('#777', 1.5), sidePlugin],
    options: {
      scales: {
        x: {
          type: 'linear', min: 0.5, max: 2.5, offset: false,
          afterBuildTicks: (s: any) => { s.ticks = pos.map((value) => ({ value })); },
          grid: { display: false, drawTicks: false, offset: false }, border: { display: false },
          ticks: { display: false },
        },
        y: {
          type: 'linear', min: yMin, max: yMax,
          afterBuildTicks: (s: any) => { s.ticks = ticks.map((value) => ({ value })); },
          grid: {
            color: (c: any) => (c.tick.value === 0 ? '#666' : c.tick.value === low ? '#cfcfcf' : 'rgba(0,0,0,0)'),
            lineWidth: 1.5, tickColor: '#b0b0b0', tickLength: 10, tickWidth: 1.5,
          },
          border: { display: false },
          title: { display: true, text: 'log2 median\u2212centered intensity', color: '#555', padding: { top: 10.7, bottom: 4 }, font: { family: 'DejaVu Sans', size: 10.5 } },
          ticks: { autoSkip: false, padding: 3, color: '#555', font: { family: 'DejaVu Sans', size: 11.5 }, callback: (v: number) => v.toFixed(1).replace('-', '\u2212') },
        },
      },
    },
  };
}

/* ---------- Panel G chart ---------- */
function qpcrConfig() {
  const pos = [0, 1, 2, 3];
  const shapes: any[] = [
    { pointStyle: 'circle', pointRadius: 6, rotation: 0 },
    { pointStyle: 'rect', pointRadius: 8.6, rotation: 0 },
    { pointStyle: 'triangle', pointRadius: 7.6, rotation: 0 },
    { pointStyle: 'triangle', pointRadius: 7.6, rotation: 180 },
  ];
  const bracketPlugin = {
    id: 'brackets',
    afterDatasetsDraw(c: any) {
      const g = c.ctx; const x = c.scales.x; const y = c.scales.y;
      g.save(); g.strokeStyle = '#000'; g.fillStyle = '#000'; g.lineWidth = 3.4;
      g.font = `32px ${SANS}`; g.textAlign = 'center'; g.textBaseline = 'alphabetic';
      bracketLevel.forEach((lv, i) => {
        const x0 = x.getPixelForValue(bracketFrom[i]); const x1 = x.getPixelForValue(bracketTo[i]); const py = y.getPixelForValue(lv);
        const cap = Math.abs(y.getPixelForValue(0) - y.getPixelForValue(1.76));
        g.beginPath(); g.moveTo(x0, py); g.lineTo(x1, py);
        g.moveTo(x0, py - cap); g.lineTo(x0, py + cap);
        g.moveTo(x1, py - cap); g.lineTo(x1, py + cap); g.stroke();
        g.fillText(bracketStars[i], (x0 + x1) / 2, y.getPixelForValue(bracketStarBase[i]));
      });
      g.restore();
    },
  };
  const datasets = stack([
    { type: 'bar', grouped: false, barThickness: 42, borderWidth: 4, borderSkipped: 'bottom', backgroundColor: 'rgba(0,0,0,0)', borderColor: cellColors, data: pos.map((x, i) => ({ x, y: cellMeans[i] })) },
    { type: 'bar', grouped: false, barThickness: 2, borderWidth: 0, backgroundColor: cellColors, data: pos.map((x, i) => ({ x, y: [cellErrLow[i], cellErrHigh[i]] })) },
    { type: 'scatter', pointStyle: 'line', pointRadius: 10.5, pointBorderWidth: 2, pointBorderColor: pos.flatMap((i) => [cellColors[i], cellColors[i]]), data: pos.flatMap((x, i) => [{ x, y: cellErrHigh[i] }, { x, y: cellErrLow[i] }]), clip: false },
    ...pos.map((x, i) => ({
      type: 'scatter', clip: false, pointBorderWidth: 0, pointBackgroundColor: cellColors[i], pointStyle: shapes[i].pointStyle, pointRadius: shapes[i].pointRadius, pointRotation: shapes[i].rotation,
      data: cellReplicates[i].map((y, k) => ({ x: x + cellOffsets[i][k], y })),
    })),
  ]);
  return {
    type: 'scatter',
    data: { datasets },
    plugins: [bracketPlugin],
    options: {
      scales: {
        x: {
          type: 'linear', min: -0.66, max: 3.676, offset: false,
          afterBuildTicks: (s: any) => { s.ticks = pos.map((value) => ({ value })); },
          grid: { offset: false, drawOnChartArea: false, tickColor: '#000', tickLength: 13, tickWidth: 3.3 },
          border: { color: '#000', width: 3.3 },
          title: { display: true, text: 'DFNA5', color: '#000', font: { family: 'Liberation Sans', size: 35, style: 'italic', lineHeight: 1 }, padding: { top: 0, bottom: -3 } },
          ticks: { autoSkip: false, minRotation: 45, maxRotation: 45, padding: 6, labelOffset: 6, color: '#000', font: { family: 'Liberation Sans', size: 36 }, callback: (v: number) => cellLines[v] },
        },
        y: {
          type: 'linear', min: 0, max: 40,
          afterBuildTicks: (s: any) => { s.ticks = cellTicks.map((value) => ({ value })); },
          grid: { drawOnChartArea: false, tickColor: '#000', tickLength: 13, tickWidth: 3.3 },
          border: { color: '#000', width: 3.3 },
          title: { display: true, text: ['Relative', 'mRNA expression'], color: '#000', font: { family: 'Liberation Sans', size: 35, lineHeight: 1.19 } },
          ticks: { padding: 5, color: '#000', font: { family: 'Liberation Sans', size: 32.5 } },
        },
      },
    },
  };
}

function Arrow({ x1, x2, y }: any) {
  const left = Math.min(x1, x2); const w = Math.abs(x2 - x1);
  const toRight = x2 > x1;
  return (
    <div style={{ position: 'absolute', left, top: y - 1, width: w, height: 2, background: '#222' }}>
      <div style={{ position: 'absolute', top: -5, [toRight ? 'right' : 'left']: 0, width: 0, height: 0, borderTop: '6px solid transparent', borderBottom: '6px solid transparent', [toRight ? 'borderLeft' : 'borderRight']: '17px solid #111' } as any} />
    </div>
  );
}

const boxMargin = { l: 67, t: 67, r: 67, b: 67 };

export default function App() {
  return (
    <div style={{ position: 'absolute', left: 0, top: 0, width: 1946, height: 1824, overflow: 'hidden', background: '#fff' }}>
      <ChartBox plot={{ l: 391, t: 255, r: 506, b: 1125 }} m={{ l: 391, t: 205, r: 54, b: 70 }} make={tableConfig} />
      <ChartBox plot={{ l: 652, t: 69, r: 1942, b: 487 }} m={{ l: 49, t: 11, r: 11, b: 175 }} make={tcgaConfig} />
      <ChartBox plot={{ l: 666, t: 793, r: 1188, b: 1113 }} m={boxMargin} make={() => boxConfig(estiloQ3, estiloMedian, estiloQ1, estiloHigh, estiloLow, estiloOutliers, [LIGHT, DARK], estiloTicks, -2.9, 3.5, ['1', '2'])} />
      <ChartBox plot={{ l: 1369, t: 794, r: 1892, b: 1114 }} m={boxMargin} make={() => boxConfig(yeQ3, yeMedian, yeQ1, yeHigh, yeLow, yeOutliers, [DARK, DARK], yeTicks, -0.55, 8, ['0', '1'])} />
      <ChartBox plot={{ l: 64, t: 1361, r: 586, b: 1682 }} m={boxMargin} make={() => boxConfig(ginosQ3, ginosMedian, ginosQ1, ginosHigh, ginosLow, ginosOutliers, [DARK, DARK], ginosTicks, -0.815, 4, ['0', '1'])} />
      <ChartBox plot={{ l: 744, t: 1365, r: 1266, b: 1685 }} m={boxMargin} make={() => boxConfig(pengQ3, pengMedian, pengQ1, pengHigh, pengLow, pengOutliers, [LIGHT, DARK], pengTicks, -1.844, 3.5, ['1', '2'])} />
      <ChartBox plot={{ l: 1544, t: 1357, r: 1827, b: 1640 }} m={{ l: 148, t: 90, r: 20, b: 184 }} make={qpcrConfig} />

      {/* panel letters */}
      <T x={2} y={25} size={50}>A</T>
      <T x={570} y={22} size={50}>B</T>
      <T x={570} y={692} size={50}>C</T>
      <T x={1325} y={689} size={50}>D</T>
      <T x={3} y={1298} size={50}>E</T>
      <T x={678} y={1292} size={50}>F</T>
      <T x={1371} y={1297} size={50}>G</T>

      {/* panel A headings, legend */}
      <T x={204} y={152} size={21} font={DEJA} color="#222" center>Analysis Type by Cancer</T>
      <T x={449} y={77} size={20.8} font={DEJA} color="#1a5ca8" center>Cancer</T>
      <T x={449} y={99} size={20.8} font={DEJA} color="#1a5ca8" center>vs.</T>
      <T x={449} y={120} size={20.8} font={DEJA} color="#1a5ca8" center>Normal</T>
      {legendFills.map((c, i) => (
        <React.Fragment key={i}>
          <div style={{ position: 'absolute', left: legendLefts[i], top: 1198, width: legendWidths[i], height: 29, boxSizing: 'border-box', border: '3px solid #4a4a4a', background: c }} />
          <T x={legendLefts[i] + legendWidths[i] / 2 - 1} y={1179} size={19} font={DEJA} color="#222" center>{legendNumbers[i]}</T>
        </React.Fragment>
      ))}
      <Arrow x1={207} x2={112} y={1241} />
      <Arrow x1={266} x2={370} y={1241} />
      <T x={234} y={1244} size={16} font={DEJA} color="#777" center>%</T>
      <div style={{ position: 'absolute', left: 38, top: 519, width: 516, height: 49, boxSizing: 'border-box', border: '3px solid #f01010' }} />

      {/* panel B highlight */}
      <div style={{ position: 'absolute', left: 1036, top: 58, width: 65, height: 568, boxSizing: 'border-box', border: '3px solid #f01010' }} />

      {/* panel C */}
      <T x={686} y={775}>DFNA5 expression in Estilo Head-neck</T>
      <T x={679} y={821}>Fold change=3.605</T>
      <T x={679} y={856}>P=6.07E-10</T>
      <T x={763} y={1132}>Tongue</T>
      <T x={1013} y={1132}>Tongue</T>
      <T x={888} y={1168}>Squamous cell carcinoma</T>

      {/* panel D */}
      <T x={1407} y={771}>DFNA5 expression in Ye Head-neck</T>
      <T x={1377} y={821}>Fold change=3.475</T>
      <T x={1377} y={857}>P=1.32E-5</T>
      <T x={1454} y={1128}>Tongue</T>
      <T x={1702} y={1130}>Tongue</T>
      <T x={1568} y={1166}>Squamous cell carcinoma</T>

      {/* panel E */}
      <T x={81} y={1343}>DFNA5 expression in Ginos Head-neck</T>
      <T x={78} y={1390}>Fold change=2.147</T>
      <T x={78} y={1426}>P=2.15E-9</T>
      <T x={108} y={1710}>Buccal Mucosa</T>
      <T x={344} y={1713}>Head and Neck</T>
      <T x={276} y={1748}>Squamous cell carcinoma</T>

      {/* panel F */}
      <T x={774} y={1347}>DFNA5 expression in Peng Head-neck</T>
      <T x={758} y={1393}>Fold change=4.537</T>
      <T x={758} y={1428}>P=1.87E-26</T>
      <T x={823} y={1718}>Oral Cavity</T>
      <T x={1050} y={1720}>Oral Cavity</T>
      <T x={954} y={1756}>Squamous cell carcinoma</T>
    </div>
  );
}
